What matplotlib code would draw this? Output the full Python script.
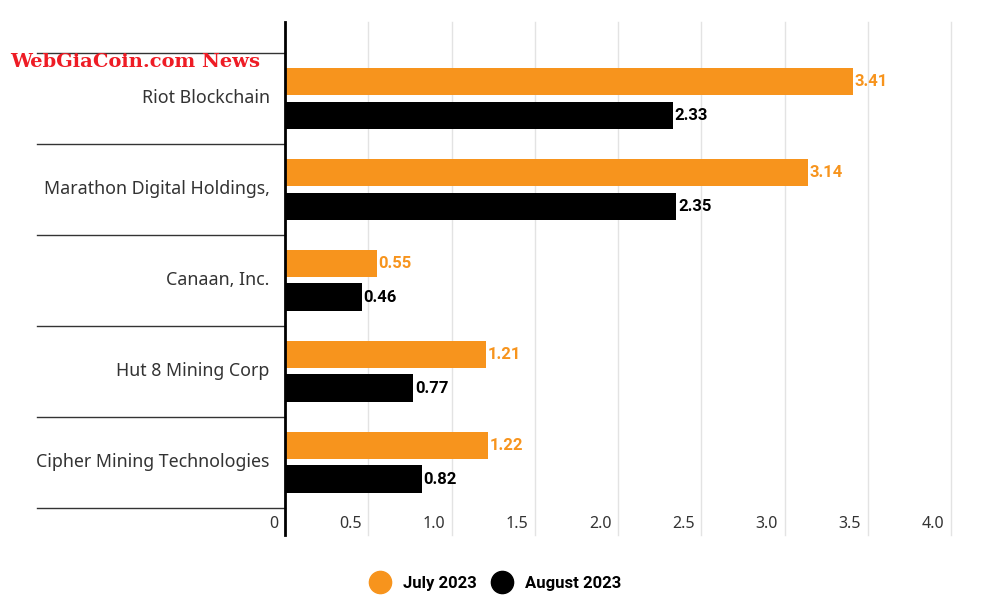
import numpy as np
import matplotlib
matplotlib.use("Agg")
import matplotlib.pyplot as plt
from matplotlib.lines import Line2D
from matplotlib.transforms import blended_transform_factory

COMPANIES = [
    "Riot Blockchain", "Marathon Digital Holdings,", "Canaan, Inc.",
    "Hut 8 Mining Corp", "Cipher Mining Technologies",
]
JULY   = [3.41, 3.14, 0.55, 1.21, 1.22]
AUGUST = [2.33, 2.35, 0.46, 0.77, 0.82]
SERIES = ["July 2023", "August 2023"]
XTICKS = [0, 0.5, 1.0, 1.5, 2.0, 2.5, 3.0, 3.5, 4.0]
XTICK_LABELS = ["0", "0.5", "1.0", "1.5", "2.0", "2.5", "3.0", "3.5", "4.0"]

ORANGE = "#F7941D"
BLACK  = "#000000"
FONT   = "Noto Sans"
BOLD   = "Roboto"

fig = plt.figure(figsize=(9.84, 6.06), dpi=100)
ax = fig.add_axes([0.2896, 0.1172, 0.6770, 0.8465])

y = np.arange(len(COMPANIES))
h = 0.30
off = 0.185
ax.barh(y - off, JULY, height=h, color=ORANGE, zorder=3)
ax.barh(y + off, AUGUST, height=h, color=BLACK, zorder=3)

for yi, v in zip(y, JULY):
    ax.text(v + 0.01, yi - off, f"{v:.2f}", va="center", ha="left",
            color=ORANGE, fontsize=12, fontweight="bold", family=BOLD)
for yi, v in zip(y, AUGUST):
    ax.text(v + 0.01, yi + off, f"{v:.2f}", va="center", ha="left",
            color=BLACK, fontsize=12, fontweight="bold", family=BOLD)

ax.set_xlim(0, 4.0)
ax.set_ylim(4.8, -0.84)

# vertical gridlines
for xt in XTICKS[1:]:
    ax.axvline(xt, color="#e3e3e3", lw=1, zorder=1, clip_on=False)

for s in ["top", "right", "bottom"]:
    ax.spines[s].set_visible(False)
ax.spines["left"].set_linewidth(2)
ax.spines["left"].set_color(BLACK)
ax.spines["left"].set_zorder(4)

ax.set_xticks([])
ax.set_yticks([])

# tick labels sit inside the bottom of the plot, left of each gridline
tr = blended_transform_factory(ax.transData, ax.transAxes)
for xt, lab in zip(XTICKS, XTICK_LABELS):
    ax.text(xt - 0.04, 0.022, lab, transform=tr, ha="right", va="center",
            fontsize=11.5, color="#333333", family=FONT)

# category separators and labels on the left
tr2 = blended_transform_factory(ax.transAxes, ax.transData)
for edge in np.arange(len(COMPANIES) + 1) - 0.5:
    ax.plot([-0.372, 0], [edge, edge], transform=tr2, color="#333333",
            lw=1, clip_on=False)
for yi, name in zip(y, COMPANIES):
    ax.text(-0.023, yi, name, transform=tr2, ha="right", va="center",
            fontsize=12.8, color="#333333", family=FONT)

# legend
handles = [Line2D([], [], marker="o", ls="", markersize=16, color=c)
           for c in (ORANGE, BLACK)]
leg = fig.legend(handles, SERIES, loc="center", bbox_to_anchor=(0.500, 0.037),
                 ncol=2, frameon=False, handletextpad=0.4, columnspacing=0.5,
                 prop={"family": BOLD, "weight": "bold", "size": 12})

# watermark
fig.text(0.010, 0.897, "WebGiaCoin.com News", color="#ee1c25",
         fontsize=14, fontweight="bold", family="DejaVu Serif",
         ha="left", va="center")

fig.savefig("out.png", dpi=100)
